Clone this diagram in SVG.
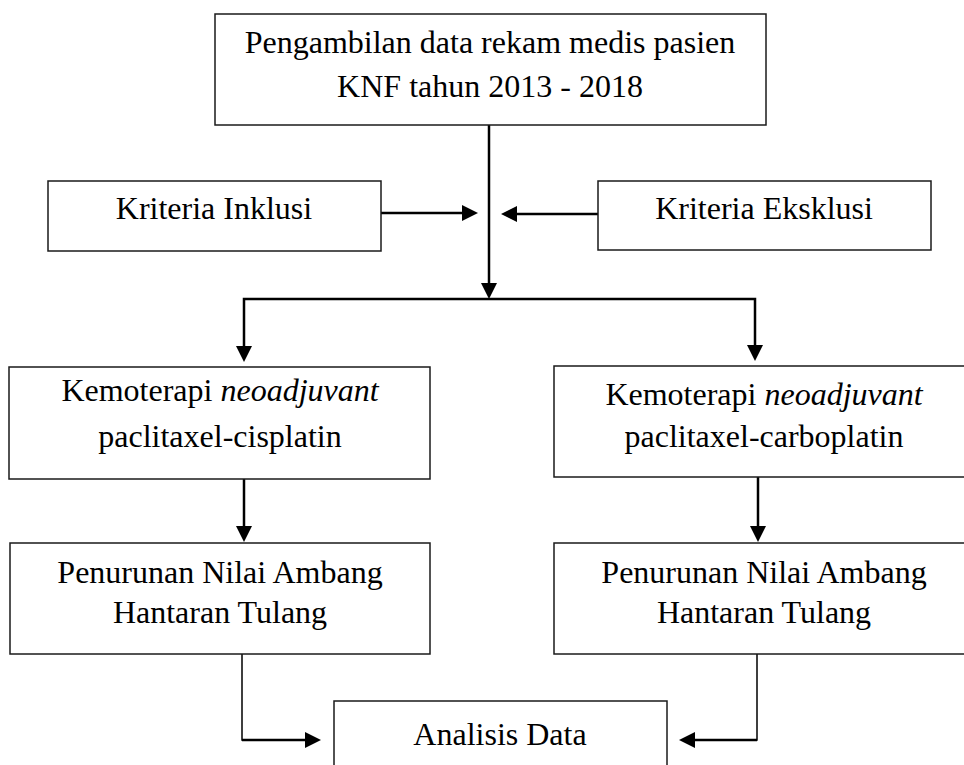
<svg xmlns="http://www.w3.org/2000/svg" width="964" height="765" viewBox="0 0 964 765">
<style>
.box{fill:#fff;stroke:#1a1a1a;stroke-width:1.5}
.t{font-family:"Liberation Serif","Times New Roman",serif;font-size:32px;fill:#000;text-anchor:middle}
.ln{fill:none;stroke:#000;stroke-width:2.5}
.thin{fill:none;stroke:#000;stroke-width:1.5}
.ah{fill:#000}
</style>
<rect width="964" height="765" fill="#fff"/>
<g id="connectors">
<line class="ln" x1="489" y1="125" x2="489" y2="284"/>
<polygon class="ah" points="481,283 497,283 489,299"/>
<line class="ln" x1="381" y1="213" x2="463" y2="213"/>
<polygon class="ah" points="462,205 462,221 478,213"/>
<line class="ln" x1="598" y1="214" x2="516" y2="214"/>
<polygon class="ah" points="517,206 517,222 501,214"/>
<polyline class="ln" points="244,348 244,299 755,299 755,347"/>
<polygon class="ah" points="236,346 252,346 244,362"/>
<polygon class="ah" points="747,345 763,345 755,361"/>
<line class="ln" x1="244" y1="479" x2="244" y2="527"/>
<polygon class="ah" points="236,526 252,526 244,542"/>
<line class="ln" x1="758" y1="477" x2="758" y2="527"/>
<polygon class="ah" points="750,526 766,526 758,542"/>
<polyline class="thin" points="242,654 242,740 306,740"/>
<line class="ln" x1="242" y1="740" x2="306" y2="740"/>
<polygon class="ah" points="305,732 305,748 321,740"/>
<polyline class="thin" points="757,654 757,740 694,740"/>
<line class="ln" x1="757" y1="740" x2="694" y2="740"/>
<polygon class="ah" points="695,732 695,748 679,740"/>
</g>
<g id="n-data">
<rect class="box" x="215" y="14" width="551" height="111"/>
<text class="t" x="490" y="53">Pengambilan data rekam medis pasien</text>
<text class="t" x="490" y="97">KNF tahun 2013 - 2018</text>
</g>
<g id="n-inklusi">
<rect class="box" x="48" y="181" width="333" height="70"/>
<text class="t" x="214" y="219">Kriteria Inklusi</text>
</g>
<g id="n-eksklusi">
<rect class="box" x="598" y="181" width="333" height="69"/>
<text class="t" x="764" y="219">Kriteria Eksklusi</text>
</g>
<g id="n-kemo-cis">
<rect class="box" x="9" y="367" width="421" height="112"/>
<text class="t" x="220" y="401">Kemoterapi <tspan font-style="italic">neoadjuvant</tspan></text>
<text class="t" x="220" y="447">paclitaxel-cisplatin</text>
</g>
<g id="n-kemo-carbo">
<rect class="box" x="554" y="366" width="420" height="111"/>
<text class="t" x="764" y="405">Kemoterapi <tspan font-style="italic">neoadjuvant</tspan></text>
<text class="t" x="764" y="447">paclitaxel-carboplatin</text>
</g>
<g id="n-penurunan-1">
<rect class="box" x="10" y="543" width="420" height="111"/>
<text class="t" x="220" y="583">Penurunan Nilai Ambang</text>
<text class="t" x="220" y="623">Hantaran Tulang</text>
</g>
<g id="n-penurunan-2">
<rect class="box" x="554" y="543" width="420" height="111"/>
<text class="t" x="764" y="583">Penurunan Nilai Ambang</text>
<text class="t" x="764" y="623">Hantaran Tulang</text>
</g>
<g id="n-analisis">
<rect class="box" x="334" y="701" width="333" height="80"/>
<text class="t" x="500" y="745">Analisis Data</text>
</g>
</svg>
